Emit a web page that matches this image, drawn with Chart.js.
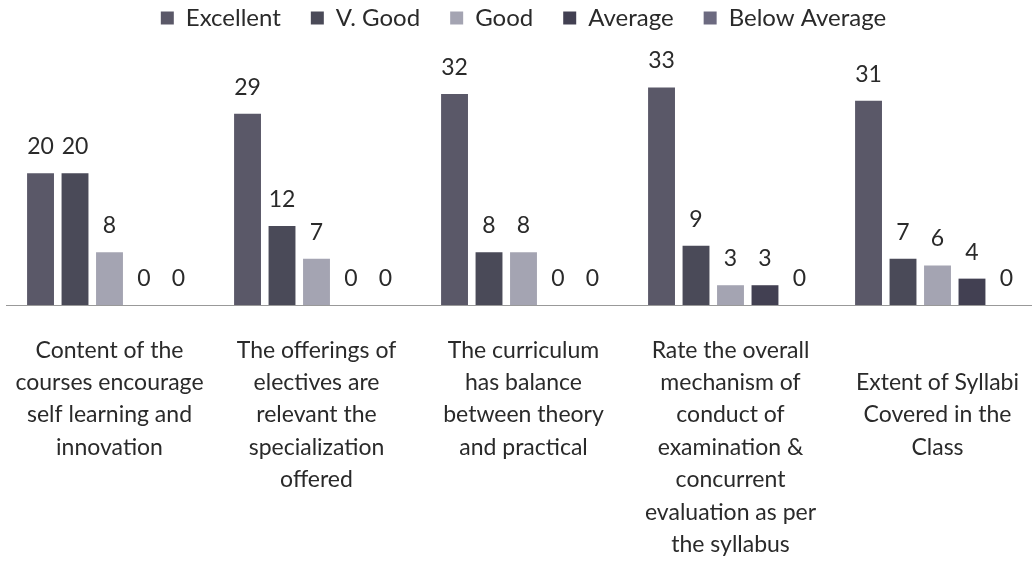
<!DOCTYPE html>
<html>
<head>
<meta charset="utf-8">
<script src="https://cdn.jsdelivr.net/npm/chart.js@4"></script>
<style>
  html, body { margin: 0; padding: 0; background: #fff; overflow: hidden; }
  #wrap { width: 1042px; height: 562px; }
</style>
</head>
<body>
<div id="wrap"><canvas id="grafico"></canvas></div>
<script>
// categorias (etiquetas del eje x, en varias lineas)
const categorias = [
  ['Content of the', 'courses encourage', 'self learning and', 'innovation'],
  ['The offerings of', 'electives are', 'relevant the', 'specialization', 'offered'],
  ['The curriculum', 'has balance', 'between theory', 'and practical'],
  ['Rate the overall', 'mechanism of', 'conduct of', 'examination &', 'concurrent', 'evaluation as per', 'the syllabus'],
  ['', 'Extent of Syllabi', 'Covered in the', 'Class']
];

const series = ['Excellent', 'V. Good', 'Good', 'Average', 'Below Average'];

const excelente = [20, 29, 32, 33, 31];
const muyBueno = [20, 12, 8, 9, 7];
const bueno = [8, 7, 8, 3, 6];
const promedio = [0, 0, 0, 3, 4];
const bajoPromedio = [0, 0, 0, 0, 0];

const colores = ['#5a5868', '#4a4a58', '#a4a4b2', '#424052', '#6c6a80'];

const fuente = 'Lato, "Open Sans", sans-serif';

// plugin sencillo para escribir el valor encima de cada barra
const etiquetasValor = {
  id: 'etiquetasValor',
  afterDatasetsDraw(chart) {
    const ctx = chart.ctx;
    ctx.save();
    ctx.font = '23px ' + fuente;
    ctx.fillStyle = '#2a2a2a';
    ctx.textAlign = 'center';
    ctx.textBaseline = 'bottom';
    chart.data.datasets.forEach((ds, i) => {
      chart.getDatasetMeta(i).data.forEach((bar, j) => {
        ctx.fillText(ds.data[j], bar.x, bar.y - 15);
      });
    });
    ctx.restore();
  }
};

const valores = [excelente, muyBueno, bueno, promedio, bajoPromedio];

new Chart(document.getElementById('grafico'), {
  type: 'bar',
  data: {
    labels: categorias,
    datasets: series.map((nombre, i) => ({
      label: nombre,
      data: valores[i],
      backgroundColor: colores[i],
      categoryPercentage: 0.833,
      barPercentage: 0.78
    }))
  },
  options: {
    responsive: true,
    maintainAspectRatio: false,
    animation: false,
    layout: { padding: { left: 6, right: 1, top: -24 } },
    plugins: {
      legend: {
        position: 'top',
        labels: {
          font: { size: 24, family: fuente },
          color: '#2a2a2a',
          boxWidth: 13,
          boxHeight: 13,
          padding: 30
        }
      },
      tooltip: { enabled: false }
    },
    scales: {
      x: {
        grid: { display: false, drawTicks: false },
        border: { display: true, color: '#999', width: 1 },
        ticks: {
          font: { size: 23, family: fuente, lineHeight: 1.41 },
          color: '#2a2a2a',
          padding: 29,
          maxRotation: 0,
          autoSkip: false
        },
        afterFit(scale) {
          scale.height = 257;
          // sin relleno extra por las etiquetas largas
          scale.paddingLeft = 0;
          scale.paddingRight = 0;
        }
      },
      y: {
        display: false,
        min: 0,
        max: 40.2
      }
    }
  },
  plugins: [etiquetasValor]
});
</script>
</body>
</html>
